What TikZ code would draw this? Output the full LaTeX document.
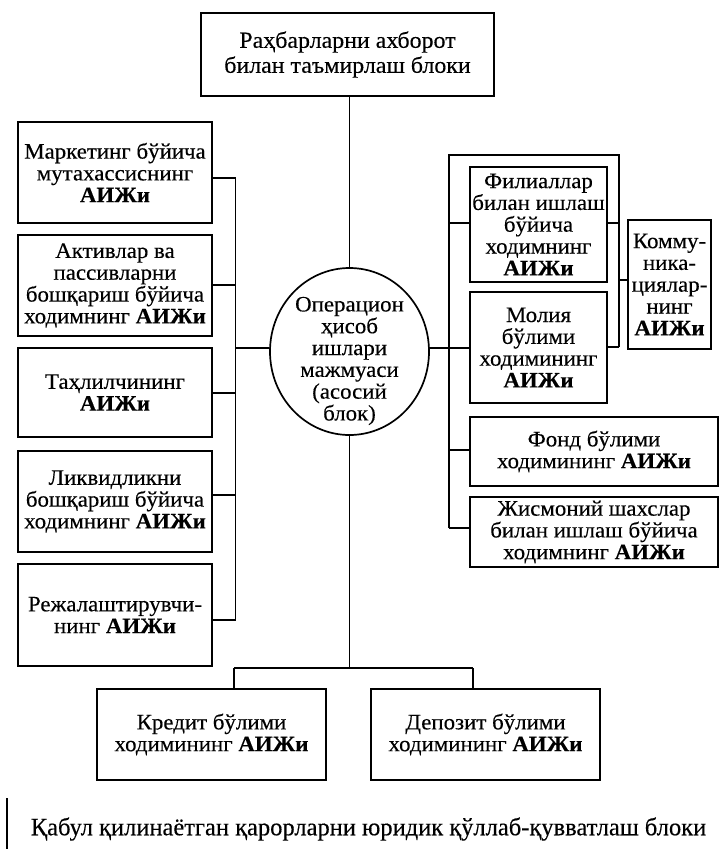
\documentclass[tikz,border=0pt]{standalone}
\usepackage{fontspec}
\setmainfont{Liberation Serif}[FakeStretch=1.04,FakeBold=0.3]
\newfontfamily\legalfont{Liberation Serif}[FakeStretch=0.98,FakeBold=0.3]
\usetikzlibrary{shapes.geometric,calc}
\newcommand\aij{\textbf{АИЖи}}
\begin{document}
\begin{tikzpicture}[x=1pt,y=-1pt,
  box/.style={draw, line width=1.7pt, align=center, inner sep=1pt,
    font=\fontsize{22}{21.8}\selectfont},
  lbl/.style={align=center, inner sep=0pt, font=\fontsize{22}{21.8}\selectfont},
  ln/.style={line width=1.7pt}]
\useasboundingbox (0,0) rectangle (721,849);

% top
\node[box, minimum width=293pt, minimum height=83pt, font=\fontsize{23}{25}\selectfont] (top) at (347.5,54.5) {Раҳбарларни ахборот\\билан таъмирлаш блоки};

% central ellipse
\node[draw, ellipse, line width=1.7pt, minimum width=159pt, minimum height=167pt, inner sep=0pt] (ell) at (349.5,351.5) {};
\node[lbl] (elltext) at (349.5,361) {Операцион\\ҳисоб\\ишлари\\мажмуаси\\(асосий\\блок)};

% left boxes
\node[box, minimum width=194pt, minimum height=101pt] (L1) at (115,172.5) {Маркетинг бўйича\\мутахассиснинг\\\aij};
\node[box, minimum width=194pt, minimum height=101pt] (L2) at (115,285.5) {Активлар ва\\пассивларни\\бошқариш бўйича\\ходимнинг \aij};
\node[box, minimum width=194pt, minimum height=89pt] (L3) at (115,392.5) {Таҳлилчининг\\\aij};
\node[box, minimum width=194pt, minimum height=101pt] (L4) at (115,501.5) {Ликвидликни\\бошқариш бўйича\\ходимнинг \aij};
\node[box, minimum width=194pt, minimum height=102pt] (L5) at (115,615) {Режалаштирувчи-\\нинг \aij};

% right boxes
\node[box, minimum width=137pt, minimum height=115pt] (R1) at (538.5,224.5) {Филиаллар\\билан ишлаш\\бўйича\\ходимнинг\\\aij};
\node[box, minimum width=137pt, minimum height=111pt] (R2) at (538.5,347.5) {Молия\\бўлими\\ходимининг\\\aij};
\node[box, minimum width=83pt, minimum height=129pt] (K) at (669.5,284.5) {Комму-\\ника-\\циялар-\\нинг\\\aij};
\node[box, minimum width=248pt, minimum height=69pt] (R3) at (594,451.5) {Фонд бўлими\\ходимининг \aij};
\node[box, minimum width=248pt, minimum height=70pt] (R4) at (594,532) {Жисмоний шахслар\\билан ишлаш бўйича\\ходимнинг \aij};

% bottom boxes
\node[box, minimum width=229pt, minimum height=91pt] (B1) at (211.5,734.5) {Кредит бўлими\\ходимининг \aij};
\node[box, minimum width=229pt, minimum height=91pt] (B2) at (485.5,734.5) {Депозит бўлими\\ходимининг \aij};

% legal text
\node[lbl, anchor=center, font=\legalfont\fontsize{25}{26}\selectfont] (legal) at (368.5,829) {Қабул қилинаётган қарорларни юридик қўллаб-қувватлаш блоки};
\coordinate (bar1) at (7,798);
\coordinate (bar2) at (7,849);
\draw[ln] (bar1) -- (bar2);

% top to ellipse
\draw[ln] (top.south -| ell.north) -- (ell.north);

% left bus
\coordinate (lb1) at (235.5,178);
\coordinate (lb2) at (235.5,285);
\coordinate (lb3) at (235.5,393);
\coordinate (lb4) at (235.5,495);
\coordinate (lb5) at (235.5,620);
\coordinate (le) at (235.5,348);
\draw[ln] (lb1) -- (lb5);
\draw[ln] (lb1) -- (lb1 -| L1.east);
\draw[ln] (lb2) -- (lb2 -| L2.east);
\draw[ln] (lb3) -- (lb3 -| L3.east);
\draw[ln] (lb4) -- (lb4 -| L4.east);
\draw[ln] (lb5) -- (lb5 -| L5.east);
\draw[ln] (le) -- (le -| ell.west);

% right bus
\coordinate (rt) at (449,155);
\coordinate (rr) at (619,155);
\coordinate (rm) at (619,347);
\coordinate (r1) at (449,223);
\coordinate (r1e) at (619,223);
\coordinate (re) at (449,348);
\coordinate (rk) at (619,280);
\coordinate (r3) at (449,450);
\coordinate (rb) at (449,528);
\draw[ln] (rb) -- (rt) -- (rr) -- (rm);
\draw[ln] (r1) -- (r1 -| R1.west);
\draw[ln] (r1e) -- (r1e -| R1.east);
\draw[ln] (re -| ell.east) -- (re -| R2.west);
\draw[ln] (rm) -- (rm -| R2.east);
\draw[ln] (rk) -- (rk -| K.west);
\draw[ln] (r3) -- (r3 -| R3.west);
\draw[ln] (rb) -- (rb -| R4.west);

% bottom
\coordinate (bj) at (349.5,668);
\coordinate (bl) at (234,668);
\coordinate (br) at (473,668);
\draw[ln] (ell.south) -- (bj);
\draw[ln] (bl) -- (br);
\draw[ln] (bl) -- (bl |- B1.north);
\draw[ln] (br) -- (br |- B2.north);
\end{tikzpicture}
\end{document}
